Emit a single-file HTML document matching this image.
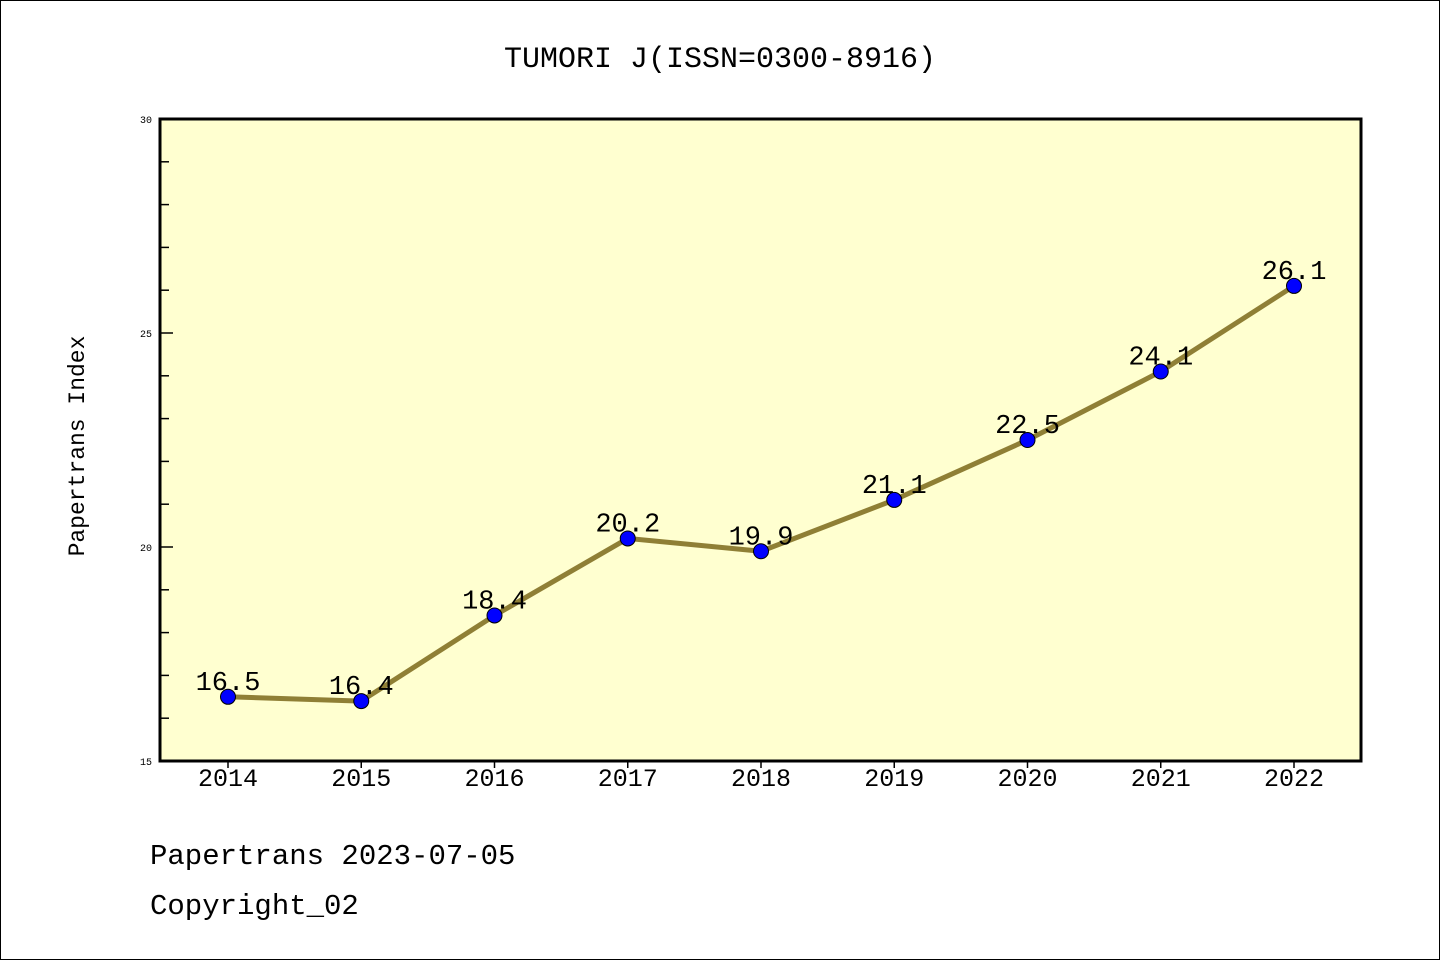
<!DOCTYPE html>
<html><head><meta charset="utf-8"><style>
html,body{margin:0;padding:0;background:#fff;}
svg{display:block;font-family:"Liberation Mono","DejaVu Sans Mono",monospace;}
</style></head><body>
<svg id="chart" width="1440" height="960" xmlns="http://www.w3.org/2000/svg">
<rect x="0.5" y="0.5" width="1439" height="959" fill="#fff" stroke="#000"/>
<text x="720" y="67" text-anchor="middle" font-size="30" fill="#000">TUMORI J(ISSN=0300-8916)</text>
<rect x="160" y="119" width="1201" height="642" fill="#ffffd0"/>
<g id="yaxis"></g>
<g id="xaxis"></g>
<g id="series"></g>
<rect x="160" y="119" width="1201" height="642" fill="none" stroke="#000" stroke-width="3"/>
<text transform="translate(84,446) rotate(-90)" text-anchor="middle" font-size="23">Papertrans Index</text>
<text x="150" y="864" font-size="29">Papertrans 2023-07-05</text>
<text x="150" y="914" font-size="29">Copyright_02</text>
</svg>
<script>
const categories = ["2014","2015","2016","2017","2018","2019","2020","2021","2022"];
const values = [16.5,16.4,18.4,20.2,19.9,21.1,22.5,24.1,26.1];
const valueLabels = ["16.5","16.4","18.4","20.2","19.9","21.1","22.5","24.1","26.1"];
const yTicks = [15,20,25,30];
const yMin = 15, yMax = 30;
const NS = "http://www.w3.org/2000/svg";
function y(v){return 761 - (v - yMin) / (yMax - yMin) * 642;}
function x(i){return 228 + i * (1294 - 228) / (categories.length - 1);}
function mk(tag, attrs, parent){const e=document.createElementNS(NS,tag);for(const k in attrs)e.setAttribute(k,attrs[k]);parent.appendChild(e);return e;}
const ya=document.getElementById('yaxis'), xa=document.getElementById('xaxis'), sg=document.getElementById('series');
for(let v=yMin; v<=yMax; v+=1){
  const major = yTicks.includes(v);
  const t=mk('line',{x1:160,x2:major?173:169,y1:y(v),y2:y(v),stroke:'#000','stroke-width':1.5},ya);
  
  
}
yTicks.forEach(v=>{
  const t=mk('text',{x:152,y:y(v)+4,'text-anchor':'end','font-size':10},ya);
  t.textContent=v;
  
  
});
categories.forEach((c,i)=>{
  const l=mk('line',{x1:x(i),x2:x(i),y1:761,y2:768,stroke:'#000','stroke-width':1.5},xa);
  
  
  const t=mk('text',{x:x(i),y:786,'text-anchor':'middle','font-size':25},xa);
  t.textContent=c;
  
  
});
const pts=values.map((v,i)=>x(i)+','+y(v)).join(' ');
const pl=mk('polyline',{points:pts,fill:'none',stroke:'#8f7f35','stroke-width':5,'stroke-linejoin':'round'},sg);


values.forEach((v,i)=>{
  const c=mk('circle',{cx:x(i),cy:y(v),r:7.5,fill:'#0000ff',stroke:'#000','stroke-width':1},sg);
  
  
  const t=mk('text',{x:x(i),y:y(v)-7,'text-anchor':'middle','font-size':27},sg);
  t.textContent=valueLabels[i];
  
  
});
</script>
</body></html>
